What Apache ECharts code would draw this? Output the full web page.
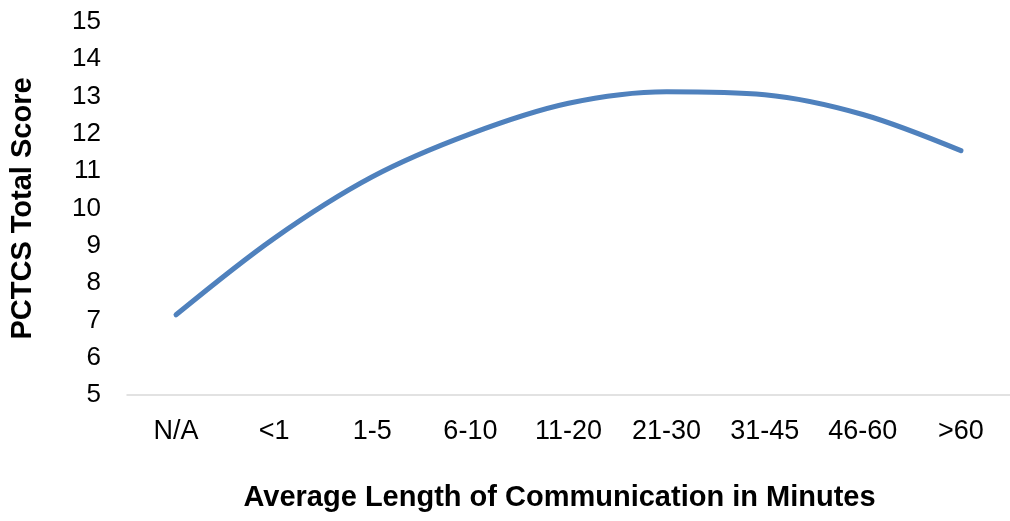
<!DOCTYPE html>
<html>
<head>
<meta charset="utf-8">
<script src="https://cdn.jsdelivr.net/npm/echarts@6/dist/echarts.min.js"></script>
<style>
html,body{margin:0;padding:0;background:#fff;}
#chart{width:1010px;height:521px;}
</style>
</head>
<body>
<div id="chart"></div>
<script>
const categories = ['N/A', '<1', '1-5', '6-10', '11-20', '21-30', '31-45', '46-60', '>60'];
const scores = [7.15, 9.2, 10.85, 12.0, 12.82, 13.13, 13.05, 12.52, 11.55];
const yMin = 5, yMax = 15, yStep = 1;
const xTitle = 'Average Length of Communication in Minutes';
const yTitle = 'PCTCS Total Score';

const FONT = 'Liberation Sans, Arial, sans-serif';
const chart = echarts.init(document.getElementById('chart'), null, {renderer: 'canvas'});
chart.setOption({
  animation: false,
  backgroundColor: '#ffffff',
  grid: {left: 125, right: -7, top: 22, bottom: 126, containLabel: false},
  xAxis: {
    type: 'category',
    data: categories,
    boundaryGap: true,
    axisLine: {show: true, lineStyle: {color: '#d9d9d9', width: 1.5}},
    axisTick: {show: false},
    axisLabel: {color: '#000', fontFamily: FONT, fontSize: 27, margin: 23},
    name: xTitle,
    nameLocation: 'middle',
    nameGap: 88,
    nameTextStyle: {color: '#000', fontFamily: FONT, fontSize: 29, fontWeight: 'bold', padding: [0, 18, 0, 0]}
  },
  yAxis: {
    type: 'value',
    min: yMin, max: yMax, interval: yStep,
    axisLine: {show: false},
    axisTick: {show: false},
    splitLine: {show: false},
    axisLabel: {color: '#000', fontFamily: FONT, fontSize: 26, margin: 26},
    name: yTitle,
    nameLocation: 'middle',
    nameGap: 90,
    nameRotate: 90,
    nameTextStyle: {color: '#000', fontFamily: FONT, fontSize: 29, fontWeight: 'bold'}
  },
  series: [{
    type: 'line',
    data: scores,
    smooth: 0.33,
    showSymbol: false,
    lineStyle: {color: '#4F81BD', width: 5, cap: 'round'}
  }]
});
</script>
</body>
</html>
